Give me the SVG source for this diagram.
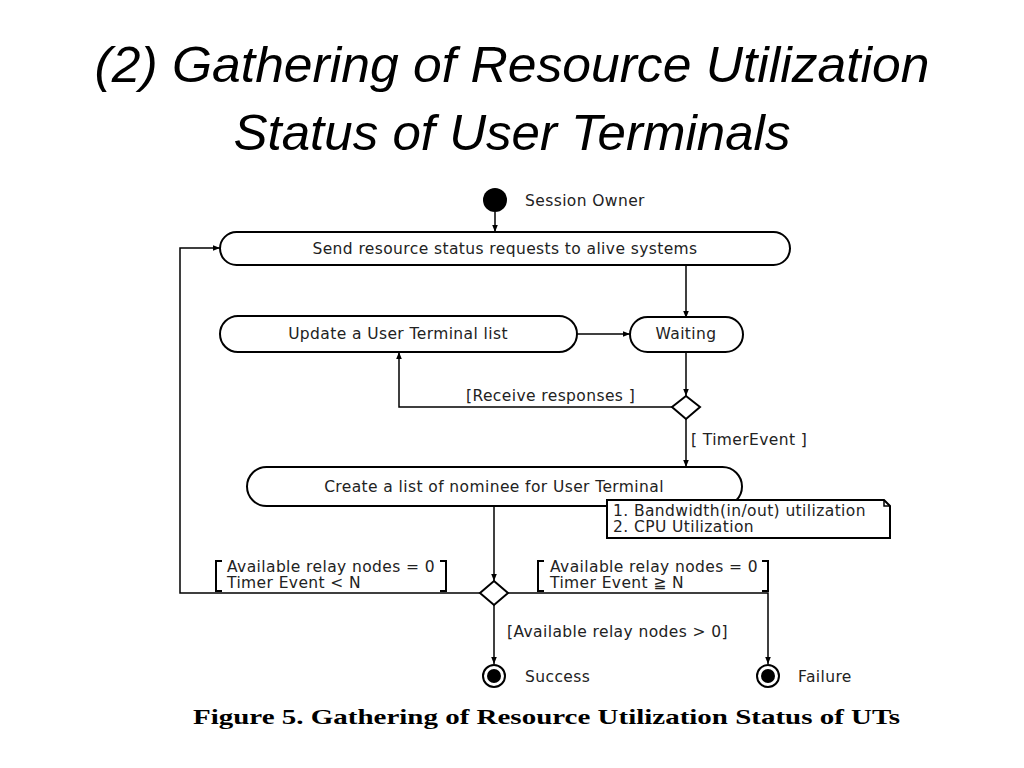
<svg xmlns="http://www.w3.org/2000/svg" width="1024" height="768" viewBox="0 0 1024 768">
<style>
.title{font-family:"Liberation Sans",Arial,sans-serif;font-style:italic;font-size:50px;fill:#000}
.t{font-family:"DejaVu Sans",Verdana,sans-serif;font-size:15.5px;letter-spacing:0.4px;fill:#222}
.c{text-anchor:middle}
.box{fill:#fff;stroke:#000;stroke-width:2}
.ln{fill:none;stroke:#000;stroke-width:1.5}
.br{fill:none;stroke:#000;stroke-width:2}
.cap{font-family:"Liberation Serif","Times New Roman",serif;font-weight:bold;font-size:21px;fill:#000}
</style>
<defs>
<marker id="ah" viewBox="0 0 10 10" refX="10" refY="5" markerWidth="7" markerHeight="7" markerUnits="userSpaceOnUse" orient="auto">
<path d="M0,1 L10,5 L0,9 z" fill="#000"/>
</marker>
</defs>
<rect width="1024" height="768" fill="#fff"/>
<text class="title" x="512" y="82" text-anchor="middle" textLength="835" lengthAdjust="spacingAndGlyphs">(2) Gathering of Resource Utilization</text>
<text class="title" x="512" y="150" text-anchor="middle" textLength="557" lengthAdjust="spacingAndGlyphs">Status of User Terminals</text>

<g id="connectors">
<path class="ln" d="M495,212 V232" marker-end="url(#ah)"/>
<path class="ln" d="M686,265 V318" marker-end="url(#ah)"/>
<path class="ln" d="M577,334 H630" marker-end="url(#ah)"/>
<path class="ln" d="M686,352 V396" marker-end="url(#ah)"/>
<path class="ln" d="M673,407 H399 V352" marker-end="url(#ah)"/>
<path class="ln" d="M686,419 V467" marker-end="url(#ah)"/>
<path class="ln" d="M494,506 V581" marker-end="url(#ah)"/>
<path class="ln" d="M481,593 H180 V248 H220" marker-end="url(#ah)"/>
<path class="ln" d="M507,593 H768 V664" marker-end="url(#ah)"/>
<path class="ln" d="M494,605 V664" marker-end="url(#ah)"/>
<text class="t" x="466" y="401">[Receive responses ]</text>
<text class="t" x="691" y="445">[ TimerEvent ]</text>
<path class="br" d="M222,561 H216 V591 H222"/>
<path class="br" d="M440,561 H446 V591 H440"/>
<text class="t" x="227" y="572">Available relay nodes = 0</text>
<text class="t" x="227" y="588">Timer Event &lt; N</text>
<path class="br" d="M544,561 H538 V591 H544"/>
<path class="br" d="M762,561 H768 V591 H762"/>
<text class="t" x="550" y="572">Available relay nodes = 0</text>
<text class="t" x="550" y="588">Timer Event ≧ N</text>
<text class="t" x="507" y="637">[Available relay nodes &gt; 0]</text>
</g>

<g id="start">
<circle cx="495" cy="200" r="12" fill="#000"/>
<text class="t" x="525" y="206">Session Owner</text>
</g>
<g id="send">
<rect class="box" x="220" y="232" width="570" height="33" rx="16.5"/>
<text class="t c" x="505" y="254">Send resource status requests to alive systems</text>
</g>
<g id="update">
<rect class="box" x="220" y="316" width="357" height="36" rx="18"/>
<text class="t c" x="398" y="339">Update a User Terminal list</text>
</g>
<g id="waiting">
<rect class="box" x="630" y="317" width="113" height="35" rx="17.5"/>
<text class="t c" x="686" y="339">Waiting</text>
</g>
<g id="decision1">
<path class="box" d="M686,396 L700,407 L686,419 L672,407 Z"/>
</g>
<g id="create">
<rect class="box" x="247" y="467" width="495" height="39" rx="19.5"/>
<text class="t c" x="494" y="492">Create a list of nominee for User Terminal</text>
</g>
<g id="note">
<path class="box" d="M607,500 H884 L890,506 V538 H607 Z"/>
<path class="ln" d="M884,500 V506 H890"/>
<text class="t" x="613" y="516">1. Bandwidth(in/out) utilization</text>
<text class="t" x="613" y="532">2. CPU Utilization</text>
</g>
<g id="decision2">
<path class="box" d="M494,581 L508,593 L494,605 L480,593 Z"/>
</g>
<g id="success">
<circle cx="494" cy="676" r="11" fill="#fff" stroke="#000" stroke-width="2"/>
<circle cx="494" cy="676" r="7" fill="#000"/>
<text class="t" x="525" y="682">Success</text>
</g>
<g id="failure">
<circle cx="768" cy="676" r="11" fill="#fff" stroke="#000" stroke-width="2"/>
<circle cx="768" cy="676" r="7" fill="#000"/>
<text class="t" x="798" y="682">Failure</text>
</g>
<text class="cap" x="193" y="724" textLength="707" lengthAdjust="spacingAndGlyphs">Figure 5. Gathering of Resource Utilization Status of UTs</text>
</svg>
